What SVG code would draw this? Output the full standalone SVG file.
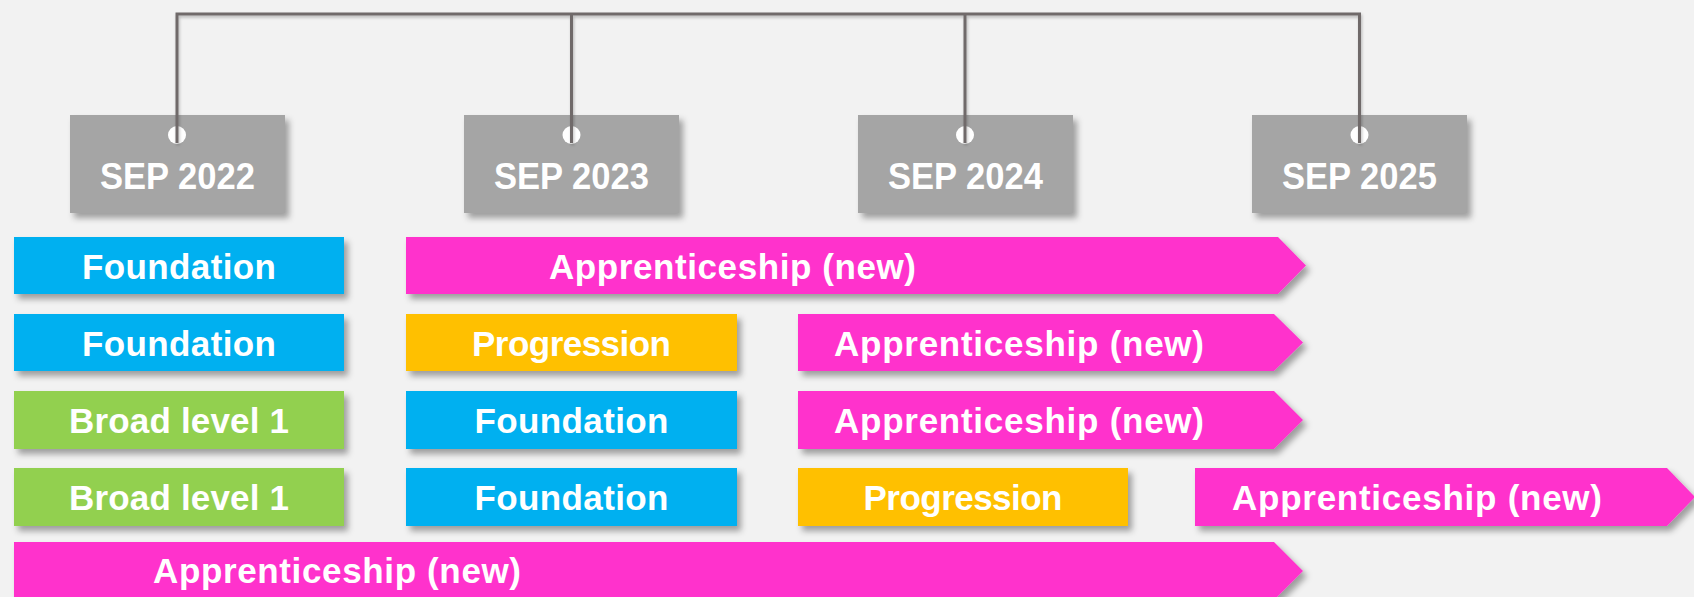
<svg xmlns="http://www.w3.org/2000/svg" width="1694" height="597" viewBox="0 0 1694 597">
<defs>
<filter id="sh" x="-10%" y="-20%" width="120%" height="150%">
<feDropShadow dx="4" dy="5" stdDeviation="3" flood-color="#000" flood-opacity="0.35"/>
</filter>
<filter id="lsh" x="-5%" y="-5%" width="110%" height="120%">
<feDropShadow dx="1" dy="2" stdDeviation="1.5" flood-color="#000" flood-opacity="0.25"/>
</filter>
<style>
.bg{fill:#f2f2f2}
.date{fill:#a5a5a5;filter:url(#sh)}
.blue{fill:#00b0f0;filter:url(#sh)}
.pink{fill:#ff33cc;filter:url(#sh)}
.orange{fill:#ffc000;filter:url(#sh)}
.green{fill:#92d050;filter:url(#sh)}
.dot{fill:#ffffff}
.conn{fill:none;stroke:#6f6b6b;stroke-width:3;filter:url(#lsh)}
text{font-family:"Liberation Sans",Arial,sans-serif;font-weight:bold;fill:#ffffff;font-size:35px}
.c{text-anchor:middle}
.d{font-size:37px}
</style>
</defs>
<rect class="bg" x="0" y="0" width="1694" height="597"/>

<g id="date-2022"><rect class="date" x="70" y="115" width="215" height="98"/><circle class="dot" cx="177" cy="135" r="9"/><text class="c d" x="177.5" y="189" textLength="155" lengthAdjust="spacingAndGlyphs">SEP 2022</text></g>
<g id="date-2023"><rect class="date" x="464" y="115" width="215" height="98"/><circle class="dot" cx="571.5" cy="135" r="9"/><text class="c d" x="571.5" y="189" textLength="155" lengthAdjust="spacingAndGlyphs">SEP 2023</text></g>
<g id="date-2024"><rect class="date" x="858" y="115" width="215" height="98"/><circle class="dot" cx="965" cy="135" r="9"/><text class="c d" x="965.5" y="189" textLength="155" lengthAdjust="spacingAndGlyphs">SEP 2024</text></g>
<g id="date-2025"><rect class="date" x="1252" y="115" width="215" height="98"/><circle class="dot" cx="1359.5" cy="135" r="9"/><text class="c d" x="1359.5" y="189" textLength="155" lengthAdjust="spacingAndGlyphs">SEP 2025</text></g>

<g id="connectors">
<path class="conn" d="M177,143 V14 H1359.5 V143 M571.5,14 V143 M965,14 V143"/>
</g>

<g id="r1-foundation"><rect class="blue" x="14" y="237" width="330" height="57"/><text class="c" x="179" y="279" textLength="194">Foundation</text></g>
<g id="r1-apprenticeship"><polygon class="pink" points="406,237 1278,237 1306,265.5 1278,294 406,294"/><text x="549" y="279" textLength="367">Apprenticeship (new)</text></g>

<g id="r2-foundation"><rect class="blue" x="14" y="314" width="330" height="57"/><text class="c" x="179" y="356" textLength="194">Foundation</text></g>
<g id="r2-progression"><rect class="orange" x="406" y="314" width="331" height="57"/><text class="c" x="571.5" y="356" textLength="199">Progression</text></g>
<g id="r2-apprenticeship"><polygon class="pink" points="798,314 1274,314 1303,342.5 1274,371 798,371"/><text x="834" y="356" textLength="370">Apprenticeship (new)</text></g>

<g id="r3-broad"><rect class="green" x="14" y="391" width="330" height="58"/><text class="c" x="179" y="433" textLength="220">Broad level 1</text></g>
<g id="r3-foundation"><rect class="blue" x="406" y="391" width="331" height="58"/><text class="c" x="571.5" y="433" textLength="194">Foundation</text></g>
<g id="r3-apprenticeship"><polygon class="pink" points="798,391 1274,391 1303,420 1274,449 798,449"/><text x="834" y="433" textLength="370">Apprenticeship (new)</text></g>

<g id="r4-broad"><rect class="green" x="14" y="468" width="330" height="58"/><text class="c" x="179" y="510" textLength="220">Broad level 1</text></g>
<g id="r4-foundation"><rect class="blue" x="406" y="468" width="331" height="58"/><text class="c" x="571.5" y="510" textLength="194">Foundation</text></g>
<g id="r4-progression"><rect class="orange" x="798" y="468" width="330" height="58"/><text class="c" x="963" y="510" textLength="199">Progression</text></g>
<g id="r4-apprenticeship"><polygon class="pink" points="1195,468 1667,468 1695,497 1667,526 1195,526"/><text x="1232" y="510" textLength="370">Apprenticeship (new)</text></g>

<g id="r5-apprenticeship"><polygon class="pink" points="14,542 1274,542 1303,571 1274,600 14,600"/><text x="153" y="583" textLength="368">Apprenticeship (new)</text></g>
</svg>
